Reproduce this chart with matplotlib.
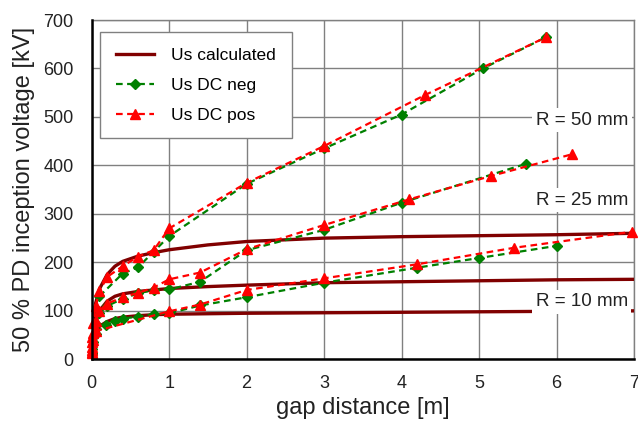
import matplotlib
matplotlib.use("Agg")
import matplotlib.pyplot as plt

plt.rcParams['font.family'] = ['Liberation Sans', 'DejaVu Sans']

# calculated curves
calc_x = [0.0, 0.02, 0.05, 0.1, 0.2, 0.3, 0.4, 0.6, 0.8, 1.0, 1.5, 2.0, 3.0, 4.0, 5.0, 6.0, 7.0]
calc_r50 = [0, 80, 115, 145, 175, 192, 202, 213, 220, 226, 236, 243, 250, 253, 255, 257, 260]
calc_r25 = [0, 55, 80, 100, 120, 130, 135, 140, 143, 146, 150, 153, 158, 160, 162, 164, 165]
calc_r10 = [0, 40, 55, 68, 78, 84, 87, 90, 92, 93, 94, 95, 96, 97, 98, 99, 100]

# measured DC neg
neg50_x = [0.1, 0.4, 0.6, 0.8, 1.0, 2.0, 3.0, 4.0, 5.05, 5.87]
neg50_y = [130, 177, 190, 222, 254, 362, 435, 505, 600, 665]
neg25_x = [0.005, 0.01, 0.02, 0.05, 0.1, 0.2, 0.4, 0.6, 0.8, 1.0, 1.4, 2.0, 3.0, 4.0, 5.6]
neg25_y = [12, 30, 50, 72, 95, 110, 125, 136, 143, 144, 160, 225, 267, 323, 403]
neg10_x = [0.005, 0.01, 0.02, 0.05, 0.18, 0.3, 0.4, 0.6, 0.8, 1.0, 1.4, 2.0, 3.0, 4.2, 5.0, 6.0]
neg10_y = [10, 22, 35, 52, 71, 78, 84, 88, 93, 95, 111, 128, 158, 189, 209, 234]

# measured DC pos
pos50_x = [0.005, 0.01, 0.02, 0.05, 0.1, 0.2, 0.4, 0.6, 0.8, 1.0, 2.0, 3.0, 4.3, 5.87]
pos50_y = [20, 45, 75, 110, 140, 170, 192, 212, 225, 270, 364, 440, 545, 665]
pos25_x = [0.005, 0.01, 0.02, 0.05, 0.1, 0.2, 0.4, 0.6, 0.8, 1.0, 1.4, 2.0, 3.0, 4.1, 5.15, 6.2]
pos25_y = [15, 35, 55, 80, 100, 115, 128, 137, 148, 165, 179, 227, 277, 330, 378, 423]
pos10_x = [0.005, 0.01, 0.02, 0.05, 1.0, 1.4, 2.0, 3.0, 4.2, 5.45, 6.97]
pos10_y = [12, 25, 40, 58, 99, 113, 143, 167, 196, 230, 263]

labels = ["R = 50 mm", "R = 25 mm", "R = 10 mm"]
label_y = [493, 328, 119]

fig = plt.figure(figsize=(6.38, 4.23), dpi=100)
ax = fig.add_axes([0.1437, 0.1506, 0.8500, 0.8021])

dark = '#800000'
green = '#008000'
red = '#ff0000'
dash = (0, (3, 2))

for i, cy in enumerate([calc_r50, calc_r25, calc_r10]):
    ax.plot(calc_x, cy, color=dark, lw=2.4, zorder=3,
            label='Us calculated' if i == 0 else None)

for i, (xs, ys) in enumerate([(neg50_x, neg50_y), (neg25_x, neg25_y), (neg10_x, neg10_y)]):
    ax.plot(xs, ys, color=green, lw=1.6, ls=dash, marker='D', ms=5.5, zorder=4,
            label='Us DC neg' if i == 0 else None)

for i, (xs, ys) in enumerate([(pos50_x, pos50_y), (pos25_x, pos25_y), (pos10_x, pos10_y)]):
    ax.plot(xs, ys, color=red, lw=1.6, ls=dash, marker='^', ms=7.5, zorder=5,
            label='Us DC pos' if i == 0 else None, clip_on=False)

for t, yv in zip(labels, label_y):
    ax.text(5.73, yv, t, fontsize=13.5, va='center', ha='left', color='#222222', zorder=6,
            bbox=dict(facecolor='white', edgecolor='none', pad=2.5))

ax.set_xlim(0, 7)
ax.set_ylim(0, 700)
ax.set_xticks(range(0, 8))
ax.set_yticks(range(0, 701, 100))
ax.grid(True, color='#808080', lw=1.0)
ax.set_axisbelow(True)
ax.tick_params(length=0, labelsize=13, colors='#222222')
ax.tick_params(axis='y', pad=13)
ax.tick_params(axis='x', pad=11)
for s in ['top', 'right']:
    ax.spines[s].set_color('#808080')
    ax.spines[s].set_linewidth(1.0)
for s in ['left', 'bottom']:
    ax.spines[s].set_color('black')
    ax.spines[s].set_linewidth(1.8)
    ax.spines[s].set_zorder(7)

ax.set_xlabel('gap distance [m]', fontsize=17, color='#222222', labelpad=4)
ax.set_ylabel('50 % PD inception voltage [kV]', fontsize=17, color='#222222', labelpad=6)

leg = ax.legend(loc='upper left', bbox_to_anchor=(0.0153, 0.9646), borderaxespad=0,
                fontsize=12.5, numpoints=1, handlelength=2.2, fancybox=False,
                framealpha=1, edgecolor='#808080', labelspacing=0.85, borderpad=0.9,
                handletextpad=1.0)
leg.get_frame().set_linewidth(1.0)
leg.set_zorder(8)

fig.savefig('out.png', dpi=100)
